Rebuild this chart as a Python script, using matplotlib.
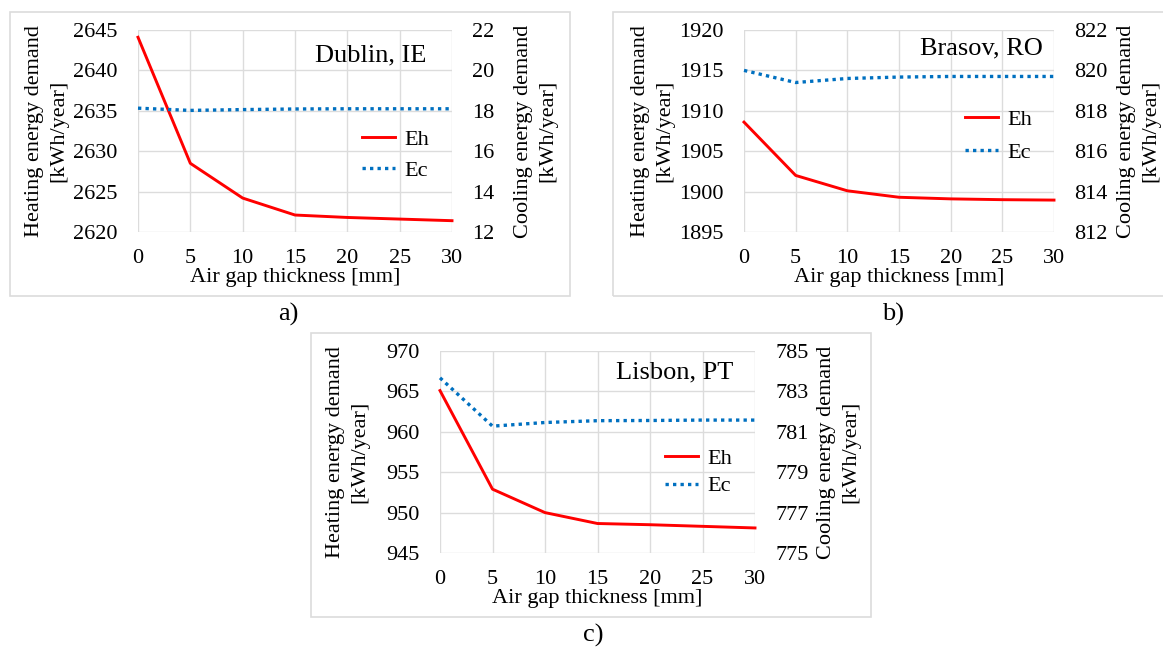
import matplotlib.pyplot as plt
from matplotlib.patches import Rectangle
from matplotlib.lines import Line2D

plt.rcParams['font.family'] = ['Liberation Serif', 'DejaVu Serif']

# data
gap = [0, 5, 10, 15, 20, 25, 30]

dublin_eh = [2644.1, 2628.5, 2624.2, 2622.1, 2621.8, 2621.6, 2621.4]
dublin_ec = [18.13, 18.02, 18.06, 18.09, 18.1, 18.1, 18.1]

brasov_eh = [1908.6, 1902.0, 1900.1, 1899.3, 1899.1, 1899.0, 1898.95]
brasov_ec = [820.0, 819.4, 819.6, 819.67, 819.7, 819.7, 819.7]

lisbon_eh = [965.1, 952.9, 950.0, 948.65, 948.5, 948.3, 948.1]
lisbon_ec = [783.67, 781.28, 781.46, 781.55, 781.56, 781.58, 781.58]

W, H = 1163, 649
fig = plt.figure(figsize=(W / 100, H / 100), dpi=100)

GRID = '#dcdcdc'
BLUE = '#0070C0'
FS = 16
DOTS = (0, (1, 1.25))


def px_rect(x0, y0, x1, y1):
    # pixel box (top-left origin) -> figure fraction [l, b, w, h]
    return [x0 / W, 1 - y1 / H, (x1 - x0) / W, (y1 - y0) / H]


def panel(plot_box, frame_box, eh, ec, ylim_l, yticks_l, ylim_r, yticks_r,
          city, city_xy, letter, letter_xy, lab_l, lab_r, leg_xy, leg_sp):
    # light frame around the panel
    x0, y0, x1, y1 = frame_box
    fig.patches.append(Rectangle((x0 / W, 1 - y1 / H), (x1 - x0) / W, (y1 - y0) / H,
                                 transform=fig.transFigure, fill=False,
                                 edgecolor=GRID, lw=1.2))
    ax = fig.add_axes(px_rect(*plot_box))
    ax2 = ax.twinx()
    ax.plot(gap, eh, color='red', lw=2.1, clip_on=False)
    ax2.plot(gap, ec, color=BLUE, lw=2.4, linestyle=DOTS, clip_on=False)
    ax.set_xlim(0, 30)
    ax.set_xticks(gap)
    ax.set_ylim(*ylim_l)
    ax.set_yticks(yticks_l)
    ax2.set_ylim(*ylim_r)
    ax2.set_yticks(yticks_r)
    ax.grid(True, color=GRID, lw=1)
    for a in (ax, ax2):
        for s in a.spines.values():
            s.set_visible(False)
        a.tick_params(axis='y', length=0, labelsize=FS, pad=14.5)
        a.tick_params(axis='x', length=0, labelsize=FS, pad=12)
    ax.set_xlabel('Air gap thickness [mm]', fontsize=FS, labelpad=0)
    ax.set_ylabel('Heating energy demand\n[kWh/year]', fontsize=FS, linespacing=1.36)
    ax2.set_ylabel('Cooling energy demand\n[kWh/year]', fontsize=FS, linespacing=1.36)
    ax.yaxis.set_label_coords(lab_l, 0.5)
    ax2.yaxis.set_label_coords(lab_r, 0.5)
    ax2.text(city_xy[0], city_xy[1], city, transform=ax.transAxes, fontsize=19,
             ha='right', va='center')
    handles = [Line2D([], [], color='red', lw=2.1),
               Line2D([], [], color=BLUE, lw=2.4, linestyle=DOTS)]
    ax2.legend(handles, ['Eh', 'Ec'], loc='center left', bbox_to_anchor=leg_xy,
               frameon=False, fontsize=FS, handlelength=1.5, labelspacing=leg_sp,
               handletextpad=0.4, borderpad=0, borderaxespad=0)
    fig.text(letter_xy[0] / W, 1 - letter_xy[1] / H, letter, fontsize=19,
             ha='center', va='center')


panel((138, 30, 452, 232), (10, 12, 570, 296), dublin_eh, dublin_ec,
      (2620, 2645), [2620, 2625, 2630, 2635, 2640, 2645],
      (12, 22), [12, 14, 16, 18, 20, 22],
      'Dublin, IE', (0.917, 0.876), 'a)', (288, 314), -0.223, 1.197,
      (0.713, 0.38), 0.45)

panel((744, 30, 1054, 232), (613, 12, 1168, 296), brasov_eh, brasov_ec,
      (1895, 1920), [1895, 1900, 1905, 1910, 1915, 1920],
      (812, 822), [812, 814, 816, 818, 820, 822],
      'Brasov, RO', (0.965, 0.91), 'b)', (893, 314), -0.226, 1.203,
      (0.713, 0.475), 0.58)

panel((440, 351, 755, 553), (311, 333, 871, 617), lisbon_eh, lisbon_ec,
      (945, 970), [945, 950, 955, 960, 965, 970],
      (775, 785), [775, 777, 779, 781, 783, 785],
      'Lisbon, PT', (0.93, 0.896), 'c)', (593, 635), -0.225, 1.197,
      (0.714, 0.4), 0.33)

fig.savefig('out.png', dpi=100)
